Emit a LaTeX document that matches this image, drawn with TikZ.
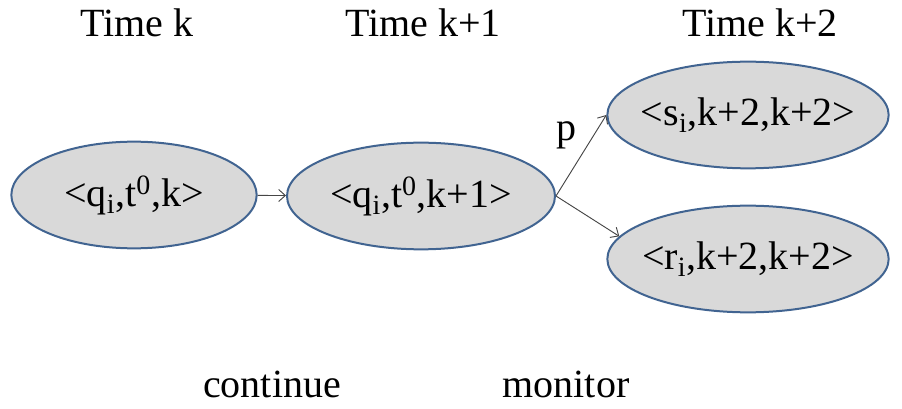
\documentclass[tikz,border=0pt]{standalone}
\usepackage{fontspec}
\setmainfont{Liberation Serif}
\usetikzlibrary{shapes.geometric,arrows.meta}

\definecolor{stategray}{RGB}{217,217,217}
\definecolor{stateblue}{RGB}{65,100,145}
\definecolor{edgegray}{RGB}{70,70,70}

\tikzset{
  state/.style={ellipse, draw=stateblue, line width=1.5pt, fill=stategray,
    inner xsep=-40pt, inner ysep=0pt, minimum height=80pt, font=\fontsize{30}{36}\selectfont},
  lbl/.style={anchor=base, font=\fontsize{30}{36}\selectfont},
  trans/.style={-{Straight Barb[length=5pt,width=9pt]}, draw=edgegray, line width=0.7pt}
}

\begin{document}
\begin{tikzpicture}[x=0.75pt,y=-0.75pt]
\useasboundingbox (0,0) rectangle (902,409);
% time columns
\node[lbl] (tk)   at (137,37) {Time k};
\node[lbl] (tk1)  at (423,37) {Time k+1};
\node[lbl] (tk2)  at (760,37) {Time k+2};
%
\node[state, minimum width=184pt] (qk)  at (134,195) {<q\textsubscript{i},t\textsuperscript{0},k>};
\node[state, minimum width=201pt] (qk1) at (421,196) {<q\textsubscript{i},t\textsuperscript{0},k+1>};
\node[state, minimum width=211pt] (si)  at (748,115) {<s\textsubscript{i},k+2,k+2>};
\node[state, minimum width=211pt] (ri)  at (748,259) {<r\textsubscript{i},k+2,k+2>};
%
\draw[trans] (qk) -- (qk1);
\draw[trans] (qk1.east) -- (si.west);
\draw[trans] (qk1.east) -- (ri.170);
\node[lbl] (p) at (566,141) {p};
%
\node[lbl] (cont) at (272,397) {continue};
\node[lbl] (mon)  at (566,397) {monitor};
\end{tikzpicture}
\end{document}
